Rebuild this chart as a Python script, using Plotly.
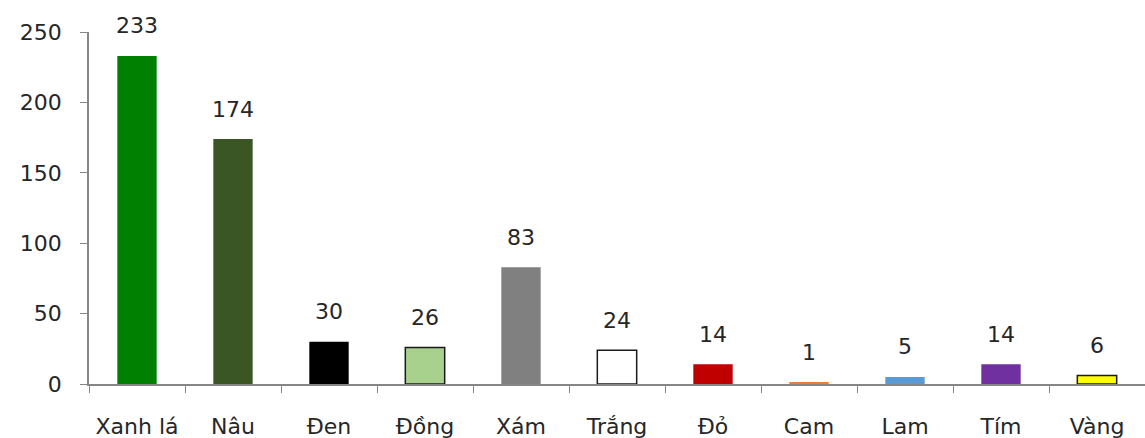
import plotly.graph_objects as go

categories = ["Xanh lá", "Nâu", "Đen", "Đồng", "Xám", "Trắng", "Đỏ", "Cam", "Lam", "Tím", "Vàng"]
values = [233, 174, 30, 26, 83, 24, 14, 1, 5, 14, 6]
colors = ["#008000", "#3a5625", "#000000", "#a9d18e", "#808080", "#ffffff",
          "#c00000", "#ed7d31", "#5b9bd5", "#7030a0", "#ffff00"]
outlines = ["#008000", "#3a5625", "#000000", "#1a1a1a", "#808080", "#1a1a1a",
            "#c00000", "#ed7d31", "#5b9bd5", "#7030a0", "#1a1a1a"]
outline_w = [0, 0, 0, 1.5, 0, 1.5, 0, 0, 0, 0, 1.5]
y_ticks = [0, 50, 100, 150, 200, 250]

FONT = "DejaVu Sans, sans-serif"
TXT = "#262626"
FS = 22

fig = go.Figure()
fig.add_trace(go.Bar(
    x=categories, y=values,
    marker=dict(color=colors, line=dict(color=outlines, width=outline_w)),
    width=0.41,
    cliponaxis=False,
))

for c, v in zip(categories, values):
    fig.add_annotation(x=c, y=v, text=str(v), showarrow=False,
                       yanchor="middle", yshift=30,
                       font=dict(size=FS, color=TXT, family=FONT))

fig.update_layout(
    width=1145, height=438,
    margin=dict(l=89, r=0, t=32, b=54),
    paper_bgcolor="white", plot_bgcolor="white",
    showlegend=False,
    font=dict(family=FONT, size=FS, color=TXT),
)
fig.update_xaxes(
    showline=True, linecolor="#868686", linewidth=1.5,
    ticks="outside", tickson="boundaries", ticklen=7, tickcolor="#868686",
    tickfont=dict(size=FS, family=FONT, color=TXT),
    ticklabelstandoff=22,
    showgrid=False, fixedrange=True,
)
fig.update_yaxes(
    range=[0, 250], tickvals=y_ticks,
    showline=True, linecolor="#868686", linewidth=1.5,
    ticks="outside", ticklen=7, tickcolor="#868686",
    tickfont=dict(size=FS, family=FONT, color=TXT),
    ticklabelstandoff=14,
    showgrid=False, zeroline=False, fixedrange=True,
)

fig.write_html("out.html")
